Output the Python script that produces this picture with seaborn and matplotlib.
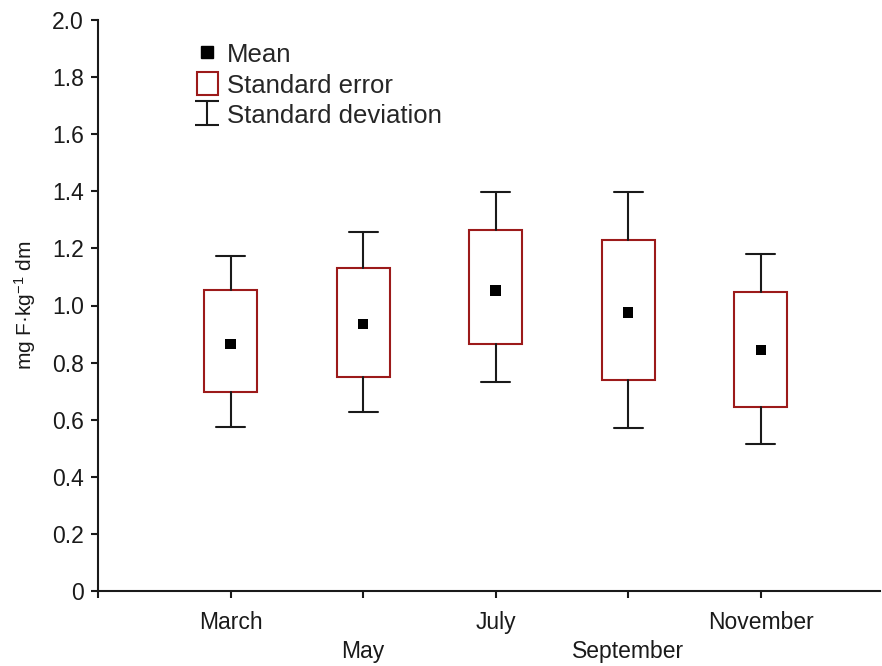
import matplotlib
matplotlib.use("Agg")
import matplotlib.pyplot as plt
import seaborn as sns
import numpy as np
import pandas as pd
from matplotlib.lines import Line2D
from matplotlib.patches import Rectangle
from matplotlib.path import Path

# ---- data ----
months = ["March", "May", "July", "September", "November"]
means = [0.864, 0.934, 1.053, 0.976, 0.843]
se_low = [0.696, 0.751, 0.865, 0.738, 0.646]
se_high = [1.054, 1.130, 1.263, 1.228, 1.046]
sd_low = [0.575, 0.626, 0.731, 0.570, 0.514]
sd_high = [1.172, 1.256, 1.396, 1.396, 1.179]
y_ticks = [0, 0.2, 0.4, 0.6, 0.8, 1.0, 1.2, 1.4, 1.6, 1.8, 2.0]
y_tick_labels = ["0", "0.2", "0.4", "0.6", "0.8", "1.0", "1.2", "1.4", "1.6", "1.8", "2.0"]
legend_labels = ["Mean", "Standard error", "Standard deviation"]
y_label = "mg F·kg$^{-1}$ dm"

sns.set_style("ticks")
plt.rcParams["font.family"] = ["Liberation Sans", "DejaVu Sans"]
plt.rcParams["mathtext.fontset"] = "custom"
plt.rcParams["mathtext.rm"] = "Liberation Sans"
plt.rcParams["mathtext.it"] = "Liberation Sans"
plt.rcParams["mathtext.default"] = "regular"

BOX_RED = "#9c1a1a"
INK = "#1a1a1a"

fig = plt.figure(figsize=(8.82, 6.66), dpi=100)
ax = fig.add_axes([98 / 882, 1 - 591 / 666, (880 - 98) / 882, (591 - 20) / 666])

positions = list(range(1, len(months) + 1))
df = pd.DataFrame({"pos": positions, "month": months, "mean": means,
                   "se_low": se_low, "se_high": se_high,
                   "sd_low": sd_low, "sd_high": sd_high})

stats = [dict(med=r["mean"], q1=r["se_low"], q3=r["se_high"],
              whislo=r["sd_low"], whishi=r["sd_high"], fliers=[], label=r["month"])
         for _, r in df.iterrows()]
ax.bxp(stats, positions=positions, widths=0.40, capwidths=0.22,
       showfliers=False, patch_artist=True,
       boxprops=dict(facecolor="white", edgecolor=BOX_RED, linewidth=1.5),
       whiskerprops=dict(color=INK, linewidth=1.5),
       capprops=dict(color=INK, linewidth=1.5),
       medianprops=dict(visible=False))

sns.scatterplot(data=df, x="pos", y="mean", marker="s", s=55, color="black",
                edgecolor="none", ax=ax, zorder=5, legend=False)

ax.set_xlim(0, 5.9)
ax.set_ylim(0, 2.0)
ax.set_yticks(y_ticks)
ax.set_yticklabels(y_tick_labels, fontsize=16.5, color=INK)
ax.set_xticks([0] + positions)
ax.set_xticklabels([""] + months, fontsize=16.5, color=INK)
ax.set_xlabel("")
ax.set_ylabel(y_label, fontsize=15, color=INK, labelpad=10)

for side in ["top", "right"]:
    ax.spines[side].set_visible(False)
for side in ["left", "bottom"]:
    ax.spines[side].set_linewidth(1.5)
    ax.spines[side].set_color(INK)
ax.tick_params(axis="both", direction="out", length=5, width=1.5, color=INK)
ax.tick_params(axis="y", pad=5)

for i, tick in enumerate(ax.xaxis.get_major_ticks()):
    tick.set_pad(30 if i in (2, 4) else 9.5)

# legend
sd_marker = Path([(-1, 1), (1, 1), (0, 1), (0, -1), (-1, -1), (1, -1)],
                 [Path.MOVETO, Path.LINETO, Path.MOVETO, Path.LINETO, Path.MOVETO, Path.LINETO])
h_mean = Line2D([], [], linestyle="none", marker="s", markersize=9,
                markerfacecolor="black", markeredgecolor="black")
h_se = Rectangle((0, 0), 1, 1, facecolor="white", edgecolor=BOX_RED, linewidth=1.5)
h_sd = Line2D([], [], linestyle="none", marker=sd_marker, markersize=17,
              markeredgecolor=INK, markerfacecolor="none", markeredgewidth=1.5)
fig.legend([h_mean, h_se, h_sd], legend_labels, loc="upper left",
           bbox_to_anchor=(197 / 882, 1 - 42 / 666), bbox_transform=fig.transFigure,
           frameon=False, fontsize=18.5, borderpad=0, borderaxespad=0,
           handlelength=0.8, handleheight=1.0, handletextpad=0.35,
           labelspacing=0.2)

fig.savefig("out.png", dpi=100)
